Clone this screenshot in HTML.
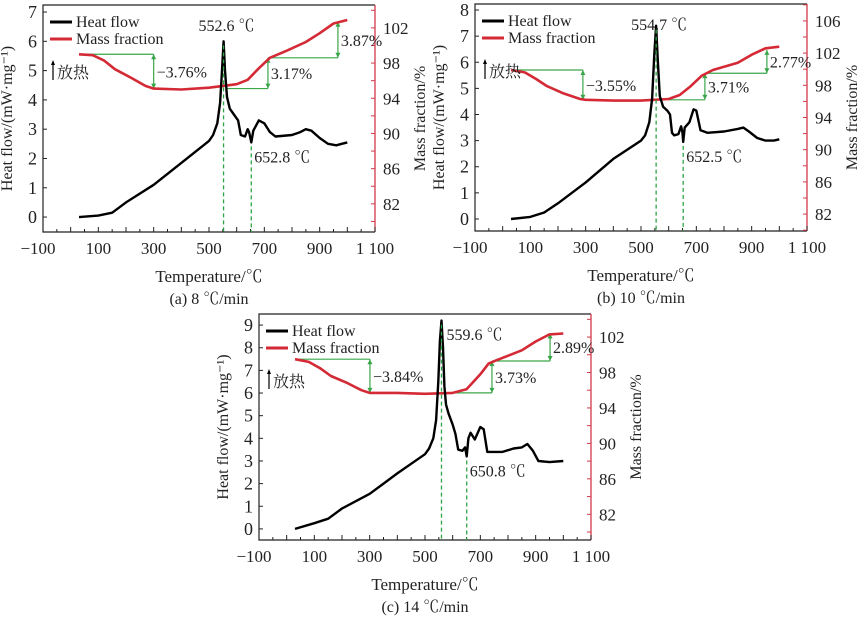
<!DOCTYPE html>
<html><head><meta charset="utf-8">
<style>
body{margin:0;background:#fff;}
svg{display:block;font-family:"Liberation Serif","Noto Serif CJK SC",serif;}
</style></head>
<body>
<svg id="fig" width="865" height="619" viewBox="0 0 865 619" xmlns="http://www.w3.org/2000/svg"></svg>
<script>
// ---- data ----
const heatA_T=[30,100,150,200,300,400,500,515,530,540,547,552.6,558,565,575,590,605,615,630,640,645,652.8,660,680,700,720,740,800,830,850,870,900,930,960,980,1000];
const heatA_V=[0,0.05,0.15,0.5,1.1,1.85,2.6,2.8,3.2,3.9,5.0,6.0,5.0,4.1,3.7,3.5,3.3,2.8,2.75,3.0,2.9,2.55,2.95,3.3,3.2,2.9,2.75,2.8,2.9,3.0,2.95,2.7,2.5,2.45,2.5,2.55];
const massA_T=[30,80,120,160,220,270,300,400,500,600,640,680,720,780,850,900,950,1000];
const massA_V=[99,98.9,98.3,97.3,96.3,95.4,95.1,95.0,95.2,95.6,96.1,97.4,98.6,99.4,100.4,101.4,102.5,102.9];
const heatB_T=[30,100,150,200,300,400,500,515,530,540,548,554.7,561,568,580,595,605,612,620,635,645,650,652.5,658,675,690,700,715,740,800,850,870,890,920,950,980,1000];
const heatB_V=[0,0.08,0.25,0.6,1.4,2.3,3.0,3.2,3.7,4.6,6.3,7.4,6.0,4.7,4.3,4.15,4.0,3.3,3.2,3.25,3.55,3.3,2.95,3.5,3.7,4.2,4.15,3.4,3.3,3.35,3.45,3.5,3.35,3.1,3.0,3.0,3.05];
const massB_T=[30,80,120,160,220,280,300,400,500,600,640,680,720,760,850,900,950,1000];
const massB_V=[99.9,99.6,98.8,97.9,97.0,96.3,96.2,96.1,96.1,96.3,96.8,97.9,99.2,99.9,100.8,101.8,102.6,102.8];
const heatC_T=[30,100,150,200,300,400,500,515,530,540,548,554,559.6,565,570,576,585,600,610,620,635,645,650.8,657,665,680,700,712,725,780,820,850,870,890,910,950,1000];
const heatC_V=[0,0.25,0.45,0.9,1.55,2.45,3.3,3.55,4.0,4.8,6.5,8.3,9.2,8.0,6.3,5.5,5.1,4.6,4.2,3.5,3.45,3.6,3.2,4.0,4.25,3.95,4.5,4.4,3.4,3.4,3.55,3.6,3.75,3.45,3.0,2.95,3.0];
const massC_T=[30,80,120,160,220,270,300,400,500,600,650,700,730,760,850,900,950,1000];
const massC_V=[99.5,99.2,98.5,97.6,96.8,96.0,95.7,95.7,95.6,95.7,96.1,97.8,99.0,99.4,100.5,101.5,102.3,102.4];
const xTickVals=[-100,100,300,500,700,900,1100];
const xTickLabels=["\u2212100","100","300","500","700","900","1 100"];

const panels=[
 {id:'a',box:[43,375,5,232],y1:[-0.51,7.24],y2:[78.8,104.6],y1t:[0,1,2,3,4,5,6,7],y2t:[82,86,90,94,98,102],
  hT:heatA_T,hV:heatA_V,mT:massA_T,mV:massA_V,cap:"(a) 8 \u2103/min",
  peak:[552.6,6.0,"552.6 \u2103"],dip:[652.8,2.55,"652.8 \u2103"],
  steps:[[40,300,99,95.1,"\u22123.76%"],[560,713,95.1,98.6,"3.17%"],[713,966,98.6,102.7,"3.87%"]]},
 {id:'b',box:[475,807,4,231],y1:[-0.46,8.23],y2:[79.9,108.1],y1t:[0,1,2,3,4,5,6,7,8],y2t:[82,86,90,94,98,102,106],
  hT:heatB_T,hV:heatB_V,mT:massB_T,mV:massB_V,cap:"(b) 10 \u2103/min",
  peak:[554.7,7.4,"554.7 \u2103"],dip:[652.5,2.95,"652.5 \u2103"],
  steps:[[40,290,99.9,96.2,"\u22123.55%"],[600,731,96.2,99.5,"3.71%"],[731,955,99.5,102.4,"2.77%"]]},
 {id:'c',box:[259,591,314,540],y1:[-0.49,9.49],y2:[79.1,104.6],y1t:[0,1,2,3,4,5,6,7,8,9],y2t:[82,86,90,94,98,102],
  hT:heatC_T,hV:heatC_V,mT:massC_T,mV:massC_V,cap:"(c) 14 \u2103/min",
  peak:[559.6,9.2,"559.6 \u2103"],dip:[650.8,3.2,"650.8 \u2103"],
  steps:[[40,301,99.5,95.7,"\u22123.84%"],[600,742,95.7,99.3,"3.73%"],[742,952,99.3,102.4,"2.89%"]]}
];

const svg=document.getElementById('fig');
const NS='http://www.w3.org/2000/svg';
function mk(tag,attrs,parent,text){const e=document.createElementNS(NS,tag);for(const k in attrs)e.setAttribute(k,attrs[k]);if(text!==undefined)e.textContent=text;(parent||svg).appendChild(e);return e;}

panels.forEach(p=>{
 const [L,R,T,B]=p.box;
 const X=v=>L+(v+100)/1200*(R-L);
 const Y1=v=>B-(v-p.y1[0])/(p.y1[1]-p.y1[0])*(B-T);
 const Y2=v=>B-(v-p.y2[0])/(p.y2[1]-p.y2[0])*(B-T);
 const g=mk('g',{});
 
 
 let e=mk('path',{d:`M${R},${T}H${L}V${B}H${R}`,fill:'none',stroke:'#222','stroke-width':1.2},g);
 
 
 e=mk('line',{x1:R,y1:T,x2:R,y2:B,stroke:'#d23a4a','stroke-width':1.3},g);
 
 
 for(let v=-100;v<=1100;v+=50){
  const len=(v%100===0)?5:3;
  e=mk('line',{x1:X(v),y1:B,x2:X(v),y2:B-len,stroke:'#222','stroke-width':1},g);
  
  
 }
 xTickVals.forEach((v,i)=>{
  e=mk('text',{x:X(v)-(v<0?5:0),y:B+22,'font-size':17,'text-anchor':'middle',fill:'#222'},g,xTickLabels[i]);
  
  
 });
 p.y1t.forEach(v=>{
  e=mk('line',{x1:L,y1:Y1(v),x2:L+4,y2:Y1(v),stroke:'#222'},g);
  
  
  e=mk('text',{x:L-6,y:Y1(v)+6,'font-size':18,'text-anchor':'end',fill:'#222'},g,String(v));
  
  
 });
 for(let v=Math.ceil(p.y2[0]/2)*2;v<=p.y2[1];v+=2){
  e=mk('line',{x1:R,y1:Y2(v),x2:R-4,y2:Y2(v),stroke:'#d23a4a'},g);
  
  
 }
 p.y2t.forEach(v=>{
  e=mk('text',{x:R+8,y:Y2(v)+6,'font-size':17,fill:'#222'},g,String(v));
  
  
 });
 const cy=(T+B)/2;
 e=mk('text',{x:L-31,y:cy,'font-size':16,'text-anchor':'middle',fill:'#222',transform:`rotate(-90 ${L-31} ${cy})`},g,"Heat flow/(mW\u00b7mg\u207b\u00b9)");
 
 
 e=mk('text',{x:R+50,y:cy,'font-size':16,'text-anchor':'middle',fill:'#222',transform:`rotate(-90 ${R+50} ${cy})`},g,"Mass fraction/%");
 
 
 e=mk('text',{x:(L+R)/2,y:B+50,'font-size':17,'text-anchor':'middle',fill:'#222'},g,"Temperature/\u2103");
 
 
 e=mk('text',{x:(L+R)/2,y:B+72,'font-size':16,'text-anchor':'middle',fill:'#222'},g,p.cap);
 
 
 p.steps.forEach(s=>{
  const [t0,t1,m0,m1,lab]=s;
  e=mk('line',{x1:X(t0),y1:Y2(m0),x2:X(t1),y2:Y2(m0),stroke:'#3aa64a','stroke-width':1.2},g);
  
  
  const ya=Y2(m0),yb=Y2(m1),xa=X(t1);
  const dir=yb>ya?1:-1;
  e=mk('line',{x1:xa,y1:ya,x2:xa,y2:yb,stroke:'#3aa64a','stroke-width':1.2},g);
  
  
  [[ya,-dir],[yb,dir]].forEach(([yy,d])=>{
   e=mk('path',{d:`M${xa-2.5},${yy-d*5}L${xa},${yy}L${xa+2.5},${yy-d*5}Z`,fill:'#3aa64a'},g);
   
   
  });
  e=mk('text',{x:xa+3,y:(ya+yb)/2+6,'font-size':16,fill:'#222'},g,lab);
  
  
 });
 const hp=p.hT.map((t,i)=>`${i?'L':'M'}${X(t).toFixed(1)},${Y1(p.hV[i]).toFixed(1)}`).join('');
 const mp=p.mT.map((t,i)=>`${i?'L':'M'}${X(t).toFixed(1)},${Y2(p.mV[i]).toFixed(1)}`).join('');
 e=mk('path',{d:mp,fill:'none',stroke:'#d42a36','stroke-width':2.6,'stroke-linejoin':'round'},g);
 
 
 e=mk('path',{d:hp,fill:'none',stroke:'#000','stroke-width':2.4,'stroke-linejoin':'round'},g);
 
 
 [p.peak,p.dip].forEach(d=>{
  e=mk('line',{x1:X(d[0]),y1:Y1(d[1])+4,x2:X(d[0]),y2:B,stroke:'#2fa545','stroke-width':1.3,'stroke-dasharray':'4,3'},g);
  
  
 });
 e=mk('text',{x:X(p.peak[0])+(p.id==='c'?5:3),y:T+26,'font-size':16,'text-anchor':p.id==='c'?'start':'middle',fill:'#222'},g,p.peak[2]);
 
 
 e=mk('text',{x:X(p.dip[0])+3,y:Y1(p.dip[1])+20,'font-size':16,fill:'#222'},g,p.dip[2]);
 
 
 e=mk('line',{x1:L+7,y1:T+17,x2:L+29,y2:T+17,stroke:'#000','stroke-width':3},g);
 
 
 e=mk('text',{x:L+33,y:T+22,'font-size':16,fill:'#222'},g,"Heat flow");
 
 
 e=mk('line',{x1:L+7,y1:T+34,x2:L+29,y2:T+34,stroke:'#d42a36','stroke-width':3},g);
 
 
 e=mk('text',{x:L+33,y:T+39,'font-size':16,fill:'#222'},g,"Mass fraction");
 
 
 e=mk('line',{x1:L+10,y1:T+75,x2:L+10,y2:T+57,stroke:'#000','stroke-width':1.2},g);
 
 
 e=mk('path',{d:`M${L+8},${T+60}L${L+10},${T+55}L${L+12},${T+60}Z`,fill:'#000'},g);
 
 
 e=mk('text',{x:L+14,y:T+73,'font-size':16,fill:'#222'},g,"放热");
 
 
});
</script>
</body></html>
